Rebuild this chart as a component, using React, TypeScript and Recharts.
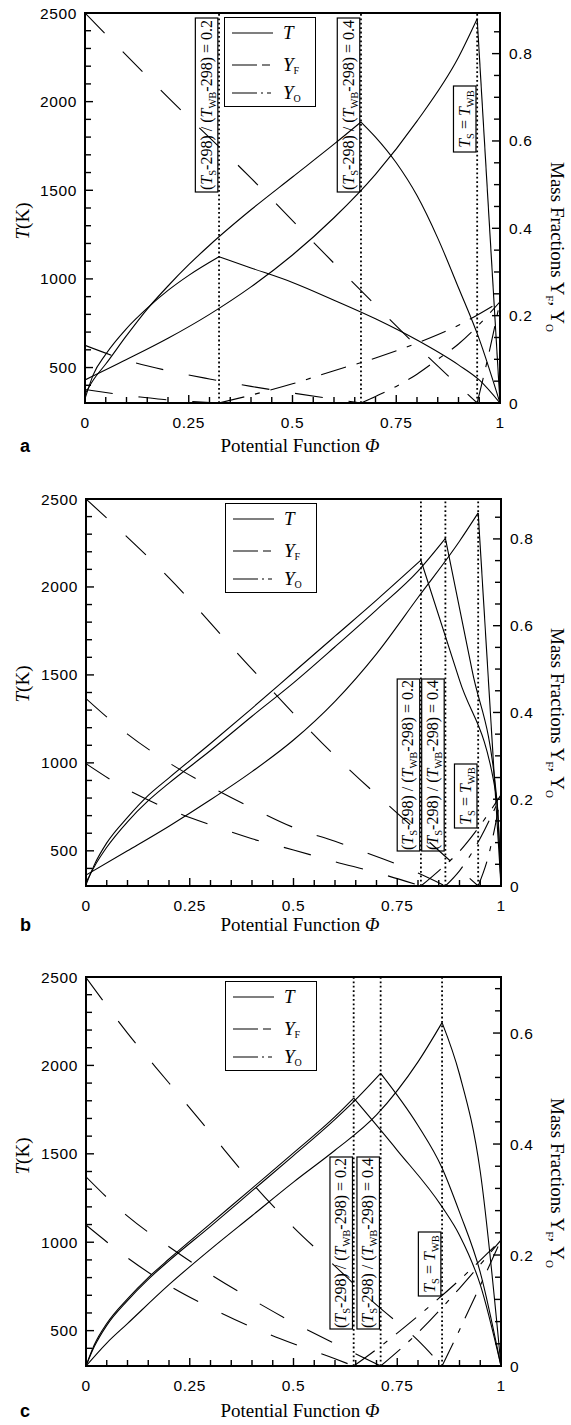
import React from 'react'
import { LineChart, Line, XAxis, YAxis, ReferenceLine, ReferenceArea, Legend } from 'recharts'

type Pt = [number, number]

// ---- axis ticks ----
const phiTicks = [0, 0.05, 0.1, 0.15, 0.2, 0.25, 0.3, 0.35, 0.4, 0.45, 0.5, 0.55, 0.6, 0.65, 0.7, 0.75, 0.8, 0.85, 0.9, 0.95, 1]
const phiLabels = [0, 0.25, 0.5, 0.75, 1]
const tempTicks = [300, 400, 500, 600, 700, 800, 900, 1000, 1100, 1200, 1300, 1400, 1500, 1600, 1700, 1800, 1900, 2000, 2100, 2200, 2300, 2400, 2500]
const tempLabels = [500, 1000, 1500, 2000, 2500]
const massTicksAB = [0, 0.05, 0.1, 0.15, 0.2, 0.25, 0.3, 0.35, 0.4, 0.45, 0.5, 0.55, 0.6, 0.65, 0.7, 0.75, 0.8, 0.85]
const massTicksC = [0, 0.04, 0.08, 0.12, 0.16, 0.2, 0.24, 0.28, 0.32, 0.36, 0.4, 0.44, 0.48, 0.52, 0.56, 0.6, 0.64, 0.68]
const massLabels = [0, 0.2, 0.4, 0.6, 0.8]

// ---- panel a : flame positions and profiles [phi, value] ----
const flamesA = [0.323, 0.665, 0.945]
const aT02: Pt[] = [[0, 324], [0.02, 460], [0.05, 575], [0.1, 720], [0.15, 835], [0.2, 935], [0.25, 1020], [0.323, 1125], [0.4, 1062], [0.5, 980], [0.6, 880], [0.7, 775], [0.8, 655], [0.9, 515], [0.95, 430], [1, 300]]
const aT04: Pt[] = [[0, 351], [0.02, 430], [0.05, 520], [0.1, 680], [0.15, 830], [0.2, 960], [0.25, 1080], [0.3, 1190], [0.4, 1390], [0.5, 1575], [0.6, 1760], [0.665, 1885], [0.7, 1800], [0.75, 1655], [0.8, 1470], [0.85, 1230], [0.9, 950], [0.95, 660], [1, 300]]
const aTwb: Pt[] = [[0, 430], [0.1, 545], [0.2, 665], [0.3, 800], [0.4, 955], [0.5, 1135], [0.6, 1345], [0.7, 1590], [0.8, 1890], [0.9, 2250], [0.945, 2467], [1, 300]]
const aYF02: Pt[] = [[0, 0.031], [0.05, 0.024], [0.1, 0.017], [0.15, 0.012], [0.2, 0.007], [0.25, 0.004], [0.323, 0]]
const aYF04: Pt[] = [[0, 0.132], [0.1, 0.098], [0.2, 0.074], [0.3, 0.055], [0.4, 0.038], [0.5, 0.023], [0.6, 0.009], [0.665, 0]]
const aYFwb: Pt[] = [[0, 0.893], [0.2, 0.7], [0.4, 0.515], [0.6, 0.32], [0.8, 0.13], [0.945, 0]]
const aYO02: Pt[] = [[0.323, 0], [0.4, 0.018], [0.5, 0.044], [0.6, 0.074], [0.7, 0.103], [0.8, 0.137], [0.9, 0.178], [1, 0.232]]
const aYO04: Pt[] = [[0.665, 0], [0.7, 0.015], [0.75, 0.038], [0.8, 0.066], [0.85, 0.1], [0.9, 0.135], [0.95, 0.18], [1, 0.232]]
const aYOwb: Pt[] = [[0.945, 0], [0.97, 0.1], [1, 0.232]]

// ---- panel b ----
const flamesB = [0.807, 0.866, 0.945]
const bT02: Pt[] = [[0, 306], [0.02, 420], [0.05, 545], [0.1, 690], [0.15, 815], [0.2, 915], [0.3, 1110], [0.4, 1310], [0.5, 1515], [0.6, 1720], [0.7, 1925], [0.807, 2152], [0.9, 1470], [0.99, 790], [1, 300]]
const bT04: Pt[] = [[0, 320], [0.02, 410], [0.05, 520], [0.1, 665], [0.15, 785], [0.2, 885], [0.3, 1070], [0.4, 1265], [0.5, 1455], [0.6, 1660], [0.7, 1870], [0.8, 2090], [0.866, 2276], [0.93, 1530], [0.99, 790], [1, 300]]
const bTwb: Pt[] = [[0, 362], [0.1, 500], [0.2, 640], [0.3, 790], [0.4, 950], [0.5, 1130], [0.6, 1350], [0.7, 1620], [0.8, 1940], [0.9, 2260], [0.945, 2421], [1, 300]]
const bYF02: Pt[] = [[0, 0.282], [0.1, 0.222], [0.2, 0.177], [0.3, 0.141], [0.4, 0.109], [0.5, 0.083], [0.6, 0.056], [0.7, 0.031], [0.807, 0]]
const bYF04: Pt[] = [[0, 0.432], [0.1, 0.35], [0.2, 0.284], [0.3, 0.229], [0.4, 0.18], [0.5, 0.135], [0.6, 0.103], [0.7, 0.068], [0.8, 0.03], [0.866, 0]]
const bYFwb: Pt[] = [[0, 0.892], [0.2, 0.71], [0.4, 0.5], [0.6, 0.3], [0.8, 0.125], [0.945, 0]]
const bYO02: Pt[] = [[0.807, 0], [0.85, 0.035], [0.9, 0.08], [0.95, 0.14], [1, 0.21]]
const bYO04: Pt[] = [[0.866, 0], [0.9, 0.035], [0.95, 0.11], [1, 0.21]]
const bYOwb: Pt[] = [[0.945, 0], [0.97, 0.07], [1, 0.21]]

// ---- panel c ----
const flamesC = [0.645, 0.71, 0.858]
const cT02: Pt[] = [[0, 300], [0.02, 420], [0.05, 540], [0.1, 680], [0.15, 800], [0.2, 905], [0.3, 1105], [0.4, 1305], [0.5, 1505], [0.6, 1710], [0.645, 1815], [0.75, 1520], [0.858, 1200], [0.9, 1040], [0.95, 760], [1, 300]]
const cT04: Pt[] = [[0, 300], [0.02, 410], [0.05, 530], [0.1, 670], [0.15, 790], [0.2, 895], [0.3, 1090], [0.4, 1290], [0.5, 1490], [0.6, 1695], [0.645, 1795], [0.71, 1955], [0.8, 1660], [0.858, 1420], [0.9, 1170], [0.95, 830], [1, 300]]
const cTwb: Pt[] = [[0, 300], [0.05, 430], [0.1, 540], [0.2, 760], [0.3, 960], [0.4, 1150], [0.5, 1340], [0.6, 1520], [0.7, 1720], [0.8, 2020], [0.858, 2242], [0.9, 1950], [0.95, 1400], [1, 300]]
const cYF02: Pt[] = [[0, 0.254], [0.1, 0.195], [0.2, 0.145], [0.3, 0.105], [0.4, 0.07], [0.5, 0.04], [0.6, 0.013], [0.645, 0]]
const cYF04: Pt[] = [[0, 0.341], [0.1, 0.27], [0.2, 0.215], [0.3, 0.165], [0.4, 0.12], [0.5, 0.078], [0.6, 0.04], [0.71, 0]]
const cYFwb: Pt[] = [[0, 0.7], [0.1, 0.6], [0.2, 0.51], [0.3, 0.42], [0.4, 0.33], [0.5, 0.25], [0.6, 0.18], [0.7, 0.11], [0.8, 0.046], [0.858, 0]]
const cYO02: Pt[] = [[0.645, 0], [0.7, 0.03], [0.8, 0.09], [0.9, 0.155], [1, 0.227]]
const cYO04: Pt[] = [[0.71, 0], [0.8, 0.06], [0.9, 0.14], [1, 0.227]]
const cYOwb: Pt[] = [[0.858, 0], [0.9, 0.065], [0.95, 0.145], [1, 0.227]]

const serif = '"Liberation Serif", "Times New Roman", serif'
const sans = '"Liberation Sans", Arial, sans-serif'
const DASH_F = '28 26'
const DASH_O = '26 11 5 11'

const toPts = (pts: Pt[]) => pts.map(([phi, v]) => ({ phi, v }))
const splitAtPeak = (pts: Pt[]) => {
  const k = pts.reduce((m, p, i) => (p[1] > pts[m][1] ? i : m), 0)
  return [pts.slice(0, k + 1), pts.slice(k)]
}

function XTick({ x, y, payload }: any) {
  const v = payload.value as number
  const major = phiLabels.includes(v)
  return (
    <g>
      <line x1={x} x2={x} y1={y} y2={y - (major ? 8 : 6)} stroke="#000" strokeWidth={1.4} />
      {major && (
        <text x={x} y={y + 25} textAnchor="middle" fontFamily={sans} fontSize={15.5} letterSpacing={0.6} fill="#000">{v}</text>
      )}
    </g>
  )
}

function TTick({ x, y, payload }: any) {
  const v = payload.value as number
  const major = tempLabels.includes(v)
  return (
    <g>
      <line x1={x} x2={x + (major ? 8 : 6)} y1={y} y2={y} stroke="#000" strokeWidth={1.4} />
      {major && (
        <text x={x - 8} y={y + 5.5} textAnchor="end" fontFamily={sans} fontSize={15.5} letterSpacing={0.6} fill="#000">{v}</text>
      )}
    </g>
  )
}

function MassTick({ x, y, payload }: any) {
  const v = payload.value as number
  const major = massLabels.includes(v)
  return (
    <g>
      <line x1={x} x2={x - (major ? 8 : 6)} y1={y} y2={y} stroke="#000" strokeWidth={1.4} />
      {major && (
        <text x={x + 9} y={y + 5.5} textAnchor="start" fontFamily={sans} fontSize={15.5} letterSpacing={0.6} fill="#000">{v}</text>
      )}
    </g>
  )
}

// boxed rotated caption sitting just left of a flame line
function FlameTag({ viewBox, top, bottom, kind }: any) {
  if (!viewBox) return null
  const w = 22.5
  const x0 = viewBox.x - 1.2 - w
  const y0 = viewBox.y + top
  const y1 = viewBox.y + bottom
  const cx = x0 + w / 2
  const cy = (y0 + y1) / 2
  const sub = { fontSize: 10.5, fontStyle: 'normal' as const }
  return (
    <g>
      <rect x={x0} y={y0} width={w} height={y1 - y0} fill="none" stroke="#000" strokeWidth={1.2} />
      <text transform={`rotate(-90 ${cx} ${cy})`} x={cx} y={cy + 5} textAnchor="middle" fontFamily={serif} fontSize={16} fill="#000">
        {kind === 'wb' ? (
          <>
            <tspan fontStyle="italic">T</tspan>
            <tspan {...sub} dy={4}>S</tspan>
            <tspan dy={-4}> = </tspan>
            <tspan fontStyle="italic">T</tspan>
            <tspan {...sub} dy={4}>WB</tspan>
          </>
        ) : (
          <>
            <tspan>(</tspan>
            <tspan fontStyle="italic">T</tspan>
            <tspan {...sub} dy={4}>S</tspan>
            <tspan dy={-4}>-298) / (</tspan>
            <tspan fontStyle="italic">T</tspan>
            <tspan {...sub} dy={4}>WB</tspan>
            <tspan dy={-4}>{`-298) = ${kind}`}</tspan>
          </>
        )}
      </text>
    </g>
  )
}

const keyRows = [
  { name: 'T', sub: '', dash: undefined, y: 15 },
  { name: 'Y', sub: 'F', dash: '25 5 8', y: 47 },
  { name: 'Y', sub: 'O', dash: '25 4 2 4 4', y: 75 },
]

function KeyBox() {
  return (
    <div style={{ width: 92, height: 90, border: '1.3px solid #000', background: '#fff', boxSizing: 'border-box' }}>
      <svg width={89} height={87} style={{ display: 'block' }}>
        {keyRows.map((r) => (
          <g key={r.name + r.sub}>
            <line x1={7} x2={48} y1={r.y} y2={r.y} stroke="#000" strokeWidth={1.1} strokeDasharray={r.dash} />
            <text x={58} y={r.y + 6} fontFamily={serif} fontSize={19} fill="#000">
              <tspan fontStyle="italic">{r.name}</tspan>
              {r.sub && <tspan fontSize={10} dy={3}>{r.sub}</tspan>}
            </text>
          </g>
        ))}
      </svg>
    </div>
  )
}

interface PanelProps {
  letter: string
  top: number
  height: number
  plot: { left: number; right: number; top: number; bottom: number }
  massMax: number
  massTicks: number[]
  flames: number[]
  T: Pt[][]
  YF: Pt[][]
  YO: Pt[][]
  tagRatio: [number, number]
  tagWb: [number, number]
  tY: number
  mY: number
  xY: number
}

function Panel(p: PanelProps) {
  const W = 571
  const tSeries = p.T.flatMap(splitAtPeak)
  const kinds = ['0.2', '0.4', 'wb']
  return (
    <div style={{ position: 'absolute', left: 0, top: p.top, width: W, height: p.height }}>
      <LineChart width={W} height={p.height} margin={{ top: p.plot.top, right: 0, bottom: 0, left: 0 }}>
        <XAxis dataKey="phi" type="number" domain={[0, 1]} ticks={phiTicks} interval={0} height={p.height - p.plot.bottom}
          tickSize={0} tickMargin={0} tickLine={false} axisLine={false} tick={(t: any) => <XTick {...t} />} allowDataOverflow />
        <YAxis yAxisId="T" domain={[300, 2500]} ticks={tempTicks} interval={0} width={p.plot.left}
          tickSize={0} tickMargin={0} tickLine={false} axisLine={false} tick={(t: any) => <TTick {...t} />} allowDataOverflow />
        <YAxis yAxisId="Y" orientation="right" domain={[0, p.massMax]} ticks={p.massTicks} interval={0} width={W - p.plot.right}
          tickSize={0} tickMargin={0} tickLine={false} axisLine={false} tick={(t: any) => <MassTick {...t} />} allowDataOverflow />
        <ReferenceArea x1={0} x2={1} y1={300} y2={2500} yAxisId="T" fill="none" stroke="#000" strokeWidth={2} />
        {p.flames.map((f, i) => (
          <ReferenceLine key={f} x={f} yAxisId="T" stroke="#000" strokeWidth={1.8} strokeDasharray="1.8 2.6"
            label={<FlameTag top={i === 2 ? p.tagWb[0] : p.tagRatio[0]} bottom={i === 2 ? p.tagWb[1] : p.tagRatio[1]} kind={kinds[i]} />} />
        ))}
        {tSeries.map((s, i) => (
          <Line key={'t' + i} data={toPts(s)} dataKey="v" yAxisId="T" type="monotone" stroke="#000" strokeWidth={1.1}
            dot={false} activeDot={false} legendType="none" isAnimationActive={false} />
        ))}
        {p.YF.map((s, i) => (
          <Line key={'f' + i} data={toPts(s)} dataKey="v" yAxisId="Y" type="monotone" stroke="#000" strokeWidth={1.1}
            strokeDasharray={DASH_F} dot={false} activeDot={false} legendType="none" isAnimationActive={false} />
        ))}
        {p.YO.map((s, i) => (
          <Line key={'o' + i} data={toPts(s)} dataKey="v" yAxisId="Y" type="monotone" stroke="#000" strokeWidth={1.1}
            strokeDasharray={DASH_O} dot={false} activeDot={false} legendType="none" isAnimationActive={false} />
        ))}
        <Legend layout="horizontal" verticalAlign="middle" align="center" content={() => <KeyBox />}
          wrapperStyle={{ position: 'absolute', left: p.plot.left + 139, top: p.plot.top + 4, width: 92, height: 90, margin: 0 }} />
      </LineChart>
      <div style={{ position: 'absolute', left: 23, top: p.tY, transform: 'translate(-50%, -50%) rotate(-90deg)', fontFamily: serif, fontSize: 19, whiteSpace: 'nowrap' }}>
        <i>T</i>(K)
      </div>
      <div style={{ position: 'absolute', left: 556, top: p.mY, transform: 'translate(-50%, -50%) rotate(90deg)', fontFamily: serif, fontSize: 19, whiteSpace: 'nowrap' }}>
        Mass Fractions Y<sub style={{ fontSize: 11 }}>F</sub>, Y<sub style={{ fontSize: 11 }}>O</sub>
      </div>
      <div style={{ position: 'absolute', left: 300, top: p.xY, transform: 'translate(-50%, -50%)', fontFamily: serif, fontSize: 19, whiteSpace: 'nowrap' }}>
        Potential Function <i>Φ</i>
      </div>
      <div style={{ position: 'absolute', left: 20, top: p.xY, transform: 'translateY(-50%)', fontFamily: sans, fontWeight: 700, fontSize: 18 }}>
        {p.letter}
      </div>
    </div>
  )
}

export default function App() {
  return (
    <div style={{ position: 'relative', width: 571, height: 1425, background: '#fff' }}>
      <style>{'body{margin:0}'}</style>
      <Panel letter="a" top={0} height={470} plot={{ left: 85, right: 500, top: 13, bottom: 403 }} massMax={0.893} massTicks={massTicksAB}
        flames={flamesA} T={[aT02, aT04, aTwb]} YF={[aYF02, aYF04, aYFwb]} YO={[aYO02, aYO04, aYOwb]}
        tagRatio={[5, 179]} tagWb={[73, 139]} tY={221} mY={247} xY={446} />
      <Panel letter="b" top={470} height={480} plot={{ left: 86, right: 501, top: 29, bottom: 416 }} massMax={0.892} massTicks={massTicksAB}
        flames={flamesB} T={[bT02, bT04, bTwb]} YF={[bYF02, bYF04, bYFwb]} YO={[bYO02, bYO04, bYOwb]}
        tagRatio={[180, 352]} tagWb={[265, 329]} tY={214} mY={243} xY={455} />
      <Panel letter="c" top={950} height={475} plot={{ left: 86, right: 501, top: 27, bottom: 416 }} massMax={0.701} massTicks={massTicksC}
        flames={flamesC} T={[cT02, cT04, cTwb]} YF={[cYF02, cYF04, cYFwb]} YO={[cYO02, cYO04, cYOwb]}
        tagRatio={[180, 352]} tagWb={[255, 319]} tY={206} mY={233} xY={461} />
    </div>
  )
}
